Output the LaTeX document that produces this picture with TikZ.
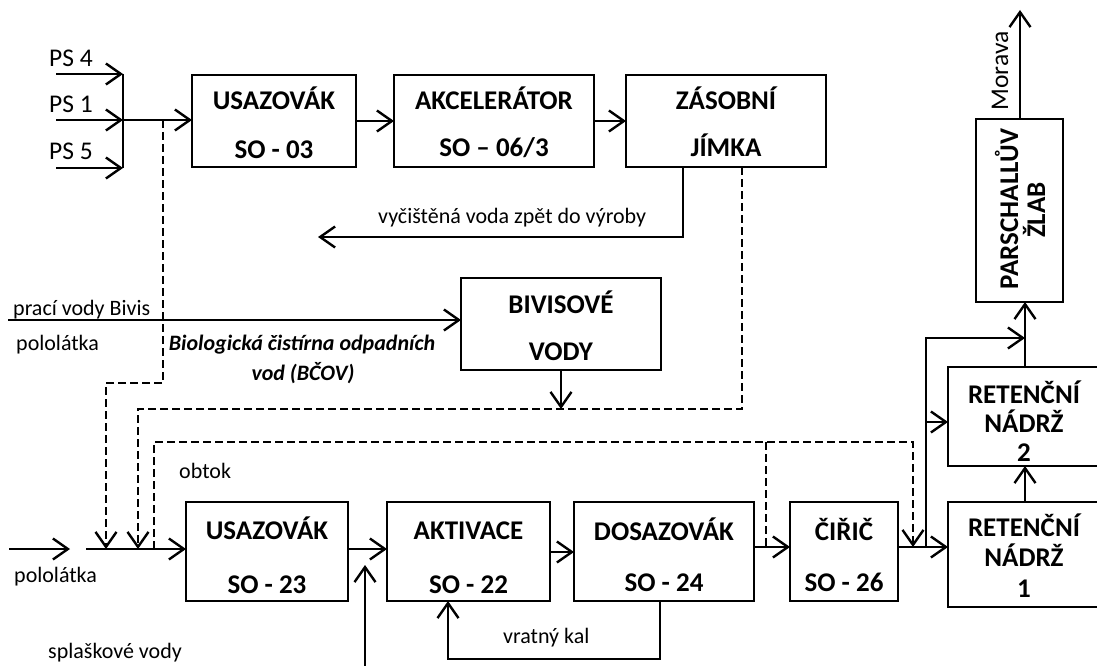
\documentclass[tikz,border=0pt]{standalone}
\usepackage{fontspec}
\setmainfont{Carlito}
\usetikzlibrary{arrows.meta}
\begin{document}
\begin{tikzpicture}[x=1pt,y=-1pt,
  box/.style={draw, line width=1.4pt, rectangle, inner sep=0pt, outer sep=0pt},
  tip/.style={-{Straight Barb[length=15pt,width=21pt,line width=2.4pt]}},
  flow/.style={line width=2.5pt, tip},
  plain/.style={line width=2.5pt},
  dsh/.style={line width=2.4pt, dash pattern=on 8pt off 4pt},
  dflow/.style={dsh, tip},
  btxt/.style={anchor=base, inner sep=0pt, font=\bfseries\fontsize{27}{30}\selectfont},
  rtxt/.style={anchor=base west, inner sep=0pt, font=\fontsize{22}{24}\selectfont},
  ptxt/.style={anchor=base west, inner sep=0pt, font=\fontsize{25.5}{28}\selectfont},
  ittxt/.style={anchor=base, inner sep=0pt, font=\bfseries\itshape\fontsize{22}{24}\selectfont}
]
\useasboundingbox (0,0) rectangle (1097,666);

% boxes
\node[box, minimum width=164pt, minimum height=92pt] (us1) at (274,121) {};
\node[box, minimum width=200pt, minimum height=92pt] (ak) at (494,121) {};
\node[box, minimum width=200pt, minimum height=92pt] (zas) at (726,121) {};
\node[box, minimum width=200pt, minimum height=92pt] (biv) at (561,324) {};
\node[box, minimum width=87pt, minimum height=183pt] (pars) at (1019.5,210.5) {};
\node[box, minimum width=152pt, minimum height=99pt] (rn2) at (1024,416.5) {};
\node[box, minimum width=152pt, minimum height=105pt] (rn1) at (1024,554.5) {};
\node[box, minimum width=162pt, minimum height=99pt] (us2) at (267,551.5) {};
\node[box, minimum width=163pt, minimum height=99pt] (akt) at (468.5,551.5) {};
\node[box, minimum width=180pt, minimum height=99pt] (dos) at (664,551.5) {};
\node[box, minimum width=108pt, minimum height=99pt] (cir) at (844,551.5) {};

% box texts
\node[btxt] (t1a) at (274,110) {USAZOVÁK};
\node[btxt] (t1b) at (274,158) {SO - 03};
\node[btxt] (t2a) at (494,110) {AKCELERÁTOR};
\node[btxt] (t2b) at (494,157) {SO – 06/3};
\node[btxt] (t3a) at (726,110) {ZÁSOBNÍ};
\node[btxt] (t3b) at (726,157) {JÍMKA};
\node[btxt] (t4a) at (561,313) {BIVISOVÉ};
\node[btxt] (t4b) at (561,360) {VODY};
\node[btxt] (t5a) at (267,539) {USAZOVÁK};
\node[btxt] (t5b) at (267,593) {SO - 23};
\node[btxt] (t6a) at (468.5,539) {AKTIVACE};
\node[btxt] (t6b) at (468.5,593) {SO - 22};
\node[btxt] (t7a) at (664,540) {DOSAZOVÁK};
\node[btxt] (t7b) at (664,591) {SO - 24};
\node[btxt] (t8a) at (844,540) {ČIŘIČ};
\node[btxt] (t8b) at (844,591) {SO - 26};
\node[btxt] (t9a) at (1024,403) {RETENČNÍ};
\node[btxt] (t9b) at (1024,432) {NÁDRŽ};
\node[btxt] (t9c) at (1024,461) {2};
\node[btxt] (t10a) at (1024,536) {RETENČNÍ};
\node[btxt] (t10b) at (1024,566) {NÁDRŽ};
\node[btxt] (t10c) at (1024,597) {1};
\node[btxt, rotate=90] (t11a) at (1018,209) {PARSCHALLŮV};
\node[btxt, rotate=90] (t11b) at (1045,210) {ŽLAB};

% free texts
\node[ptxt] (ps4t) at (49,67) {PS 4};
\node[ptxt] (ps1t) at (49,113) {PS 1};
\node[ptxt] (ps5t) at (49,160) {PS 5};
\node[ptxt, anchor=base, rotate=90] (mor) at (1008,71) {Morava};
\node[rtxt] (vyt) at (378,223) {vyčištěná voda zpět do výroby};
\node[rtxt] (prt) at (13,315) {prací vody Bivis};
\node[rtxt] (pl1) at (16,350) {pololátka};
\node[ittxt] (bc1) at (302,350) {Biologická čistírna odpadních};
\node[ittxt] (bc2) at (303,380) {vod (BČOV)};
\node[rtxt] (obt) at (179,478) {obtok};
\node[rtxt] (pl2) at (14,582) {pololátka};
\node[rtxt] (spl) at (48,658) {splaškové vody};
\node[rtxt] (vrt) at (503,643) {vratný kal};

% coordinates
\coordinate (ps4) at (56,74);
\coordinate (ps1) at (56,120);
\coordinate (ps5) at (56,168);
\coordinate (j4) at (123,74);
\coordinate (j1) at (123,120);
\coordinate (j5) at (123,168);
\coordinate (d1) at (163,120);
\coordinate (vy) at (318,237);
\coordinate (in0) at (9,549);
\coordinate (in1) at (70,549);
\coordinate (in2) at (86,549);
\coordinate (bv) at (8,320);
\coordinate (spl0) at (365,666);
\coordinate (spl1) at (365,565);
\coordinate (mor1) at (1020,10);

% top inputs
\draw[flow] (ps4) -- (j4);
\draw[flow] (ps1) -- (j1);
\draw[flow] (ps5) -- (j5);
\draw[plain] (j4) -- (j5);
\draw[flow] (j1) -- (us1.west |- j1);
\draw[flow] (us1) -- (ak);
\draw[flow] (ak) -- (zas);
\draw[flow] ([xshift=-43pt]zas.south) |- (vy);

% Bivis
\draw[flow] (bv) -- (biv.west |- bv);
\draw[flow] (biv.south) -- (biv.south |- 0,409);

% dashed lines
\draw[dflow] (d1) -- (163,383) -- (106,383) -- (106,549);
\draw[dflow] ([xshift=16pt]zas.south) -- (742,409) -- (138,409) -- (138,549);
\draw[dflow] (154,549) -- (154,442) -- (913,442) -- (913,547);
\draw[dsh] (766,442) -- (766,547);

% bottom line
\draw[flow] (in0) -- (in1);
\draw[flow] (in2) -- (us2.west |- in2);
\draw[flow] (us2.east |- 0,549) -- (akt.west |- 0,549);
\draw[flow] (spl0) -- (spl1);
\draw[flow] (akt.east |- 0,552) -- (dos.west |- 0,552);
\draw[flow] (dos.east |- 0,547) -- (cir.west |- 0,547);
\draw[flow] (cir.east |- 0,547) -- (rn1.west |- 0,547);
\draw[flow] (dos.south -| 660,0) -- (660,659) -- (448,659) -- (akt.south -| 448,0);

% right side
\draw[flow] (926,547) -- (926,338) -- (1025,338);
\draw[flow] (926,422) -- (rn2.west |- 0,422);
\draw[flow] (rn1.north -| 1025,0) -- (rn2.south -| 1025,0);
\draw[flow] (rn2.north -| 1025,0) -- (pars.south -| 1025,0);
\draw[flow] (pars.north -| 1020,0) -- (mor1);
\end{tikzpicture}
\end{document}
